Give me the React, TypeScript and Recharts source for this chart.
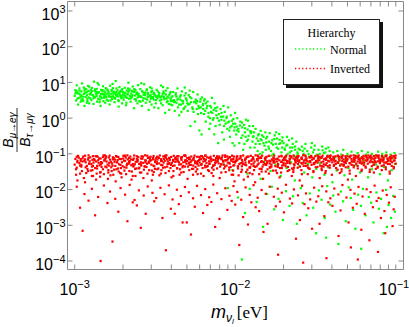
import React from 'react';
import { ScatterChart, Scatter, XAxis, YAxis, Legend, ReferenceArea } from 'recharts';

// ---------- axis settings ----------
const xTicks = [0.001, 0.002, 0.003, 0.004, 0.005, 0.006, 0.007, 0.008, 0.009, 0.01, 0.02, 0.03, 0.04, 0.05, 0.06, 0.07, 0.08, 0.09, 0.1];
const xMajor = [0.001, 0.01, 0.1];
const yTicks = [1e-4, 1e-3, 1e-2, 1e-1, 1, 10, 100, 1000];
const xDomain = [9.02e-4, 0.1117];
const yDomain = [5.78e-5, 1845];
const seriesNames = ['Normal', 'Inverted'];
const legendTitle = 'Hierarchy';

// ---------- data: [m_nu (meV), ratio] ----------
const normalBandLow = [
  [1.0,4.2],[1.01,6.1],[1.02,3.1],[1.03,8.3],[1.04,5.0],[1.05,2.4],[1.06,3.7],[1.07,6.8],[1.08,4.6],[1.09,2.9],[1.1,5.6],[1.11,9.4],[1.12,3.4],[1.13,4.0],[1.14,7.2],[1.15,2.2],[1.16,5.2],[1.17,3.9],[1.18,6.4],[1.19,4.4],[1.2,3.0],[1.21,8.0],[1.22,5.8],[1.23,2.6],[1.24,4.8],[1.25,3.6],[1.02,5.4],[1.06,4.9],[1.1,3.3],[1.15,6.0],[1.19,2.7],[1.23,7.6],
  [1.26,5.1],[1.27,3.2],[1.28,7.0],[1.3,4.3],[1.31,2.5],[1.32,10.5],[1.33,5.9],[1.34,3.8],[1.36,4.7],[1.37,6.6],[1.38,2.9],[1.4,3.5],[1.41,8.6],[1.42,5.3],[1.44,4.1],[1.45,2.2],[1.46,6.2],[1.47,3.6],[1.49,4.9],[1.5,7.8],[1.51,3.0],[1.53,5.6],[1.54,4.4],[1.55,2.7],[1.56,6.9],[1.57,3.9],[1.29,4.5],[1.35,5.5],[1.43,3.3],[1.48,5.9],[1.52,4.0],[1.39,9.6],
  [1.58,4.6],[1.6,6.3],[1.61,3.1],[1.63,5.2],[1.65,2.4],[1.66,8.1],[1.68,4.0],[1.7,5.7],[1.71,3.4],[1.73,6.9],[1.75,4.8],[1.77,2.8],[1.78,3.7],[1.8,10.9],[1.82,5.4],[1.83,4.2],[1.85,6.0],[1.87,3.2],[1.88,2.1],[1.9,7.4],[1.92,4.5],[1.94,5.8],[1.95,3.6],[1.97,2.6],[1.98,6.5],[1.62,4.9],[1.69,3.9],[1.74,5.1],[1.81,4.4],[1.89,5.0],[1.96,4.1],[1.72,9.1],
  [2.0,5.3],[2.02,3.3],[2.05,7.1],[2.07,4.1],[2.09,2.3],[2.11,5.9],[2.13,4.6],[2.16,9.8],[2.18,3.5],[2.2,6.4],[2.23,2.9],[2.25,4.9],[2.27,3.9],[2.3,7.7],[2.32,5.5],[2.34,1.9],[2.37,4.3],[2.39,6.1],[2.41,3.1],[2.44,5.0],[2.46,2.6],[2.48,8.4],[2.04,4.4],[2.12,3.7],[2.21,4.2],[2.28,5.8],[2.36,3.4],[2.43,4.7],[2.15,6.8],[2.47,3.8],
  [2.5,4.8],[2.53,3.0],[2.56,6.5],[2.59,4.0],[2.62,2.2],[2.65,5.4],[2.68,3.6],[2.71,8.9],[2.74,4.4],[2.77,2.7],[2.8,6.0],[2.83,3.3],[2.86,5.1],[2.89,1.7],[2.92,4.2],[2.95,7.3],[2.98,3.5],[3.01,2.4],[3.04,5.7],[3.07,3.9],[3.1,4.8],[3.13,2.0],[2.55,4.1],[2.66,3.1],[2.75,5.2],[2.85,3.9],[2.97,4.5],[3.11,3.3],[2.6,9.5],[3.02,6.8],
  [3.16,4.3],[3.2,2.6],[3.24,6.2],[3.28,3.6],[3.32,1.9],[3.36,5.1],[3.4,3.1],[3.45,8.2],[3.49,4.1],[3.53,2.3],[3.57,5.6],[3.62,3.4],[3.66,1.4],[3.7,4.6],[3.75,2.8],[3.79,6.9],[3.84,3.8],[3.88,1.7],[3.93,4.9],[3.97,3.0],[3.22,3.9],[3.34,4.4],[3.47,3.3],[3.6,4.0],[3.73,3.5],[3.86,2.5],[3.95,5.4],[3.55,7.4],
  [4.0,3.8],[4.05,2.3],[4.1,5.4],[4.15,3.2],[4.2,1.6],[4.26,4.5],[4.31,2.7],[4.37,6.8],[4.42,3.5],[4.48,1.2],[4.53,4.0],[4.59,2.4],[4.65,5.6],[4.71,3.0],[4.77,1.8],[4.83,4.3],[4.89,2.1],[4.95,3.4],[4.08,3.0],[4.22,2.9],[4.4,2.0],[4.56,3.3],[4.74,2.6],[4.92,5.0],[4.3,4.0],[4.62,1.5],[4.85,7.2],
  [5.0,3.1],[5.06,1.6],[5.13,4.4],[5.19,2.5],[5.26,0.6],[5.33,3.6],[5.4,2.0],[5.47,5.4],[5.54,2.8],[5.61,0.8],[5.68,3.3],[5.75,1.8],[5.83,4.6],[5.9,2.2],[5.98,0.45],[6.05,2.9],[6.13,1.4],[6.21,3.8],[6.28,2.3],[5.1,2.4],[5.3,2.8],[5.5,1.5],[5.72,2.6],[5.95,1.9],[6.17,0.35],[5.2,5.9],[5.8,3.0],[6.1,2.0],
  [6.3,2.5],[6.38,1.3],[6.46,3.4],[6.55,0.8],[6.63,1.9],[6.72,2.9],[6.8,1.1],[6.89,0.5],[6.98,2.2],[7.07,1.5],[7.16,3.7],[7.25,0.9],[7.35,1.7],[7.44,2.6],[7.54,0.6],[7.63,1.2],[7.73,2.0],[7.83,0.2],[6.5,1.6],[6.7,2.2],[6.95,1.0],[7.2,1.4],[7.5,1.9],[7.75,1.0],[6.4,3.1],[7.0,0.7],[7.4,0.35],
  [7.9,1.3],[8.0,0.65],[8.1,1.8],[8.2,0.9],[8.3,0.4],[8.4,1.1],[8.5,0.25],[8.6,1.5],[8.71,0.7],[8.82,1.0],[8.93,0.5],[9.04,2.0],[9.15,0.8],[9.27,0.3],[9.38,1.2],[9.5,0.6],[9.62,0.2],[9.74,0.95],[9.86,0.45],[9.98,1.4],[8.15,1.1],[8.55,0.85],[8.95,0.75],[9.3,0.55],[9.7,0.7],[8.45,2.2],[9.9,0.17]
];

const normalBandCore = [
  [1.01,4.9],[1.04,3.5],[1.07,5.9],[1.1,4.3],[1.13,3.0],[1.16,6.6],[1.19,5.3],[1.22,3.8],[1.25,4.6],[1.28,5.7],[1.31,3.6],[1.34,6.4],[1.37,4.2],[1.4,5.0],[1.43,2.8],[1.46,4.7],[1.49,6.1],[1.52,3.7],[1.55,5.2],[1.58,3.3],[1.61,5.8],[1.64,4.3],[1.67,3.1],[1.7,6.2],[1.73,4.1],[1.76,5.5],[1.79,3.5],[1.82,6.8],[1.85,4.6],[1.88,3.0],[1.91,5.3],[1.94,4.0],[1.97,6.0],[2.01,3.8],[2.06,5.1],[2.1,2.7],[2.14,4.8],[2.19,5.9],[2.24,3.6],[2.29,4.4],[2.35,6.5],[2.4,3.4],[2.45,5.2],[2.51,4.0],[2.57,2.9],[2.63,5.7],[2.69,4.5],[2.76,3.5],[2.82,6.4],[2.88,4.1],[2.94,2.9],[3.0,5.4],[3.07,3.7],[3.14,4.6],[3.21,3.2],[3.29,5.6],[3.37,4.0],[3.45,2.6],[3.53,4.8],[3.61,3.6],[3.7,5.9],[3.79,3.0],[3.88,4.5],[3.97,2.4],[4.06,4.1],[4.16,2.8],[4.26,5.0],[4.36,3.3],[4.47,2.4],[4.58,4.4],[4.69,3.0],[4.8,1.9],[4.92,3.6],
  [1.03,5.6],[1.09,3.9],[1.14,4.8],[1.2,3.4],[1.26,6.2],[1.32,4.0],[1.38,5.4],[1.45,3.9],[1.51,4.6],[1.57,6.7],[1.63,4.0],[1.69,4.8],[1.75,3.8],[1.81,5.1],[1.87,4.0],[1.93,5.6],[2.0,4.6],[2.08,3.9],[2.16,5.5],[2.26,4.1],[2.36,5.4],[2.48,4.5],[2.6,3.9],[2.72,5.0],[2.85,4.7],[2.99,3.9],[3.12,5.1],[3.27,4.2],[3.43,3.8],[3.6,5.0],[3.78,4.0],[3.96,3.4],
  [5.03,2.6],[5.23,3.9],[5.43,1.8],[5.64,2.9],[5.86,1.3],[6.08,3.4],[6.32,1.8],[6.56,2.6],[6.81,1.4],[7.07,2.0],[7.34,1.0],[7.62,1.6],[7.91,0.85],[8.21,1.4],[8.52,0.6],[8.85,1.1],[9.19,0.45],[9.54,0.85],[9.9,0.55],[10.3,0.45],[10.7,0.62],[11.1,0.33],[11.5,0.52],[12.0,0.25],[12.4,0.43],[12.9,0.3],[13.4,0.19],[13.9,0.33],[14.4,0.26],[15.0,0.2],[15.6,0.27],[16.2,0.14],[16.8,0.2],[17.5,0.26],[18.1,0.15],[18.8,0.19],[19.6,0.23],[20.3,0.14],[21.1,0.18],[21.9,0.11],[22.7,0.15],[23.6,0.13],[24.5,0.1],[26.3,0.12],[28.6,0.1],[31.0,0.13],[33.6,0.1],[36.4,0.11]
];

const normalBandHigh = [
  [10.0,0.7],[10.15,0.35],[10.3,1.0],[10.45,0.5],[10.6,0.2],[10.75,0.8],[10.9,0.28],[11.05,0.55],[11.2,0.13],[11.35,0.65],[11.5,0.4],[11.65,0.9],[11.8,0.23],[11.95,0.48],[12.1,0.32],[12.25,0.6],[12.4,0.15],[10.5,0.42],[11.0,0.75],[11.6,0.3],[12.0,0.85],[10.2,0.58],[11.4,0.19],[12.5,0.38],
  [12.6,0.42],[12.8,0.22],[13.0,0.31],[13.2,0.15],[13.4,0.5],[13.6,0.27],[13.8,0.12],[14.0,0.36],[14.2,0.19],[14.4,0.44],[14.6,0.24],[14.8,0.11],[15.0,0.3],[15.2,0.17],[15.4,0.4],[15.6,0.21],[13.1,0.4],[13.9,0.23],[14.7,0.33],[15.5,0.13],[12.9,0.6],[14.3,0.1],
  [15.8,0.3],[16.1,0.16],[16.4,0.38],[16.7,0.12],[17.0,0.24],[17.3,0.1],[17.6,0.33],[17.9,0.19],[18.2,0.27],[18.5,0.14],[18.8,0.36],[19.1,0.2],[19.4,0.11],[19.7,0.29],[16.2,0.22],[17.2,0.18],[18.0,0.4],[18.9,0.25],[19.6,0.15],[16.9,0.09],
  [20.0,0.2],[20.4,0.13],[20.8,0.17],[21.2,0.1],[21.6,0.24],[22.0,0.15],[22.4,0.12],[22.8,0.19],[23.2,0.09],[23.6,0.16],[24.0,0.22],[24.4,0.11],[24.8,0.14],[21.0,0.3],[22.6,0.27],[23.8,0.082],[20.6,0.085],
  [25.3,0.13],[26.0,0.16],[26.7,0.1],[27.4,0.19],[28.1,0.12],[28.9,0.085],[29.7,0.15],[30.5,0.11],[31.3,0.17],[32.1,0.095],[33.0,0.13],[33.9,0.075],[34.8,0.16],[35.7,0.105],[36.7,0.14],[37.7,0.09],[38.7,0.12],[39.7,0.07],[27.0,0.14],[30.0,0.2],[35.0,0.125],[38.0,0.15],
  [40.8,0.11],[42.0,0.08],[43.2,0.12],[44.5,0.065],[45.8,0.095],[47.1,0.13],[48.5,0.07],[50.0,0.1],[51.5,0.085],[53.0,0.115],[54.6,0.06],[56.2,0.09],[57.9,0.105],[59.6,0.075],[61.4,0.12],[63.2,0.065],[65.1,0.095],[67.0,0.11],[69.0,0.08],[71.0,0.1],[73.2,0.06],[75.4,0.09],[77.6,0.115],[79.9,0.07],[82.3,0.1],[84.8,0.085],[87.3,0.11],[89.9,0.065],[92.6,0.095],[95.4,0.075],[98.2,0.105]
];

const normalTail = [
  [8.5,0.05],[9.6,0.035],[10.8,0.055],[11.9,0.028],[13.1,0.045],[14.4,0.02],[15.2,0.06],[16.6,0.033],[17.8,0.05],[19.2,0.024],[20.9,0.04],[22.3,0.058],[23.5,0.018],[25.1,0.045],[26.9,0.03],[28.4,0.052],[30.2,0.022],[32.0,0.038],[33.8,0.055],[35.9,0.026],[38.1,0.042],[40.3,0.016],[42.8,0.034],[45.2,0.05],[47.9,0.025],[50.6,0.04],[53.5,0.019],[56.7,0.048],[60.0,0.03],[63.5,0.055],[67.2,0.022],[71.1,0.037],[75.3,0.05],[79.7,0.027],[84.3,0.043],[89.2,0.018],[94.4,0.035],[99.0,0.052],
  [9.0,0.011],[10.4,0.006],[11.5,0.0022],[12.3,0.0105],[13.6,0.0045],[14.9,0.0009],[15.8,0.0075],[16.9,0.012],[17.5,0.0028],[18.6,0.0055],[19.8,0.0014],[20.7,0.009],[21.8,0.0035],[22.9,0.0065],[24.2,0.0011],[25.6,0.011],[26.3,0.0042],[27.8,0.0019],[29.1,0.0078],[30.6,0.0031],[31.9,0.0006],[33.2,0.0095],[34.5,0.0052],[36.1,0.0016],[37.4,0.0125],[39.0,0.0038],[40.8,0.0068],[42.1,0.0024],[43.9,0.0003],[45.5,0.0088],[47.0,0.0047],[48.8,0.0013],[50.9,0.0115],[52.4,0.0058],[54.3,0.0027],[56.0,0.0008],[58.3,0.0072],[60.7,0.0035],[62.5,0.0105],[64.8,0.0019],[67.9,0.0062],[70.2,0.0043],[72.6,0.0012],[75.8,0.0083],[78.4,0.0029],[81.0,0.0055],[84.0,0.0006],[86.9,0.0098],[90.1,0.0037],[93.5,0.0016],[96.3,0.0066],[98.8,0.0024],[11.0,0.00011],[36.8,0.00045],[60.9,0.00022],[88.0,0.0009]
];

const invertedBandLow = [
  [1.01,.072],[1.03,.041],[1.05,.088],[1.02,.026],[1.07,.055],[1.04,.018],
  [1.09,.064],[1.11,.033],[1.13,.084],[1.08,.047],[1.14,.021],[1.12,.075],
  [1.17,.058],[1.2,.038],[1.22,.091],[1.18,.029],[1.21,.069],[1.16,.016],
  [1.25,.08],[1.28,.044],[1.24,.062],[1.3,.024],[1.27,.052],[1.29,.035],
  [1.32,.071],[1.35,.086],[1.34,.04],[1.37,.028],[1.31,.057],[1.36,.019],
  [1.4,.066],[1.43,.048],[1.39,.083],[1.45,.031],[1.42,.074],[1.44,.023],
  [1.48,.056],[1.51,.09],[1.5,.037],[1.53,.065],[1.47,.043],[1.52,.027],
  [1.56,.078],[1.6,.05],[1.58,.061],[1.62,.03],[1.57,.085],[1.61,.02],
  [1.66,.069],[1.69,.042],[1.65,.089],[1.71,.054],[1.7,.033],[1.67,.025],
  [1.75,.076],[1.79,.046],[1.77,.06],[1.81,.087],[1.76,.036],[1.8,.017],
  [1.85,.067],[1.89,.051],[1.87,.082],[1.92,.029],[1.9,.072],[1.86,.039],
  [1.97,.058],[2.01,.088],[1.99,.045],[2.03,.064],[1.96,.022],[2.04,.034],
  [2.08,.079],[2.12,.053],[2.1,.041],[2.14,.07],[2.09,.027],[2.13,.091],
  [2.2,.063],[2.25,.048],[2.22,.084],[2.27,.032],[2.19,.057],[2.26,.019],
  [2.33,.074],[2.38,.038],[2.35,.09],[2.4,.06],[2.32,.044],[2.39,.024],
  [2.47,.068],[2.52,.052],[2.49,.081],[2.55,.03],[2.46,.062],[2.53,.041],
  [2.61,.086],[2.67,.056],[2.64,.073],[2.7,.036],[2.6,.047],[2.68,.021],
  [2.77,.065],[2.83,.089],[2.8,.043],[2.86,.077],[2.76,.058],[2.84,.028],
  [2.94,.071],[3.0,.05],[2.97,.083],[3.03,.034],[2.93,.062],[3.02,.018],
  [3.1,.087],[3.17,.059],[3.13,.045],[3.2,.075],[3.11,.031],[3.18,.066],
  [3.29,.08],[3.36,.054],[3.32,.039],[3.39,.09],[3.28,.069],[3.37,.025],
  [3.49,.063],[3.56,.085],[3.52,.048],[3.59,.072],[3.47,.035],[3.58,.057],
  [3.7,.078],[3.77,.044],[3.73,.091],[3.8,.061],[3.68,.029],[3.79,.052],
  [3.91,.067],[3.99,.082],[3.95,.04],[4.03,.056],[3.9,.074],[4.01,.022],
  [4.14,.088],[4.23,.06],[4.19,.047],[4.27,.07],[4.12,.033],[4.25,.079],
  [4.39,.064],[4.48,.05],[4.43,.086],[4.53,.037],[4.37,.073],[4.5,.026],
  [4.65,.081],[4.74,.058],[4.69,.042],[4.79,.09],[4.63,.068],[4.77,.031],
  [4.92,.066],[5.02,.076],[4.97,.053],[5.08,.044],[4.9,.087],[5.05,.02],
  [5.21,.071],[5.32,.084],[5.27,.059],[5.38,.038],[5.19,.049],[5.35,.065],
  [5.52,.078],[5.63,.055],[5.58,.089],[5.69,.032],[5.5,.069],[5.66,.043],
  [5.85,.063],[5.97,.082],[5.91,.047],[6.03,.074],[5.83,.027],[6.0,.057],
  [6.2,.086],[6.32,.061],[6.26,.04],[6.39,.072],[6.17,.052],[6.35,.024],
  [6.56,.069],[6.69,.08],[6.62,.056],[6.77,.035],[6.54,.09],[6.73,.046],
  [6.95,.075],[7.09,.062],[7.02,.083],[7.17,.041],[6.93,.053],[7.13,.029],
  [7.36,.088],[7.51,.067],[7.44,.049],[7.6,.076],[7.33,.036],[7.55,.058],
  [7.8,.071],[7.95,.084],[7.88,.054],[8.05,.044],[7.77,.063],[8.0,.021],
  [8.26,.079],[8.42,.06],[8.34,.09],[8.52,.039],[8.23,.07],[8.47,.05],
  [8.75,.066],[8.92,.085],[8.84,.047],[9.03,.074],[8.72,.031],[8.98,.057],
  [9.27,.081],[9.45,.064],[9.36,.043],[9.56,.089],[9.24,.053],[9.5,.026],
  [9.72,.072],[9.85,.048],[9.8,.084],[9.92,.06],[9.7,.034],[9.9,.017]
];

const invertedBandHigh = [
  [10.1,.063],[10.3,.086],[10.4,.039],[10.2,.071],[10.5,.025],[10.6,.052],
  [10.8,.078],[11.0,.045],[11.2,.09],[10.9,.031],[11.1,.06],[11.3,.019],
  [11.5,.067],[11.8,.083],[11.7,.048],[11.9,.036],[11.6,.074],[12.0,.023],
  [12.2,.057],[12.5,.088],[12.4,.042],[12.7,.069],[12.3,.029],[12.6,.051],
  [12.9,.08],[13.2,.061],[13.1,.035],[13.4,.091],[13.0,.046],[13.3,.016],
  [13.7,.072],[14.0,.054],[13.9,.085],[14.2,.038],[13.8,.065],[14.1,.027],
  [14.5,.077],[14.8,.044],[14.7,.089],[15.0,.059],[14.6,.032],[14.9,.02],
  [15.4,.068],[15.7,.083],[15.6,.049],[15.9,.037],[15.3,.075],[15.8,.055],
  [16.3,.087],[16.6,.062],[16.5,.041],[16.9,.07],[16.2,.028],[16.8,.05],
  [17.3,.079],[17.6,.058],[17.5,.09],[17.9,.034],[17.2,.066],[17.8,.045],
  [18.3,.073],[18.7,.084],[18.5,.052],[19.0,.04],[18.2,.061],[18.9,.022],
  [19.4,.088],[19.8,.067],[19.6,.047],[20.1,.076],[19.3,.03],[20.0,.056],
  [20.6,.081],[21.0,.063],[20.8,.09],[21.3,.043],[20.5,.07],[21.2,.033],
  [21.8,.074],[22.3,.085],[22.0,.054],[22.6,.039],[21.7,.062],[22.5,.024],
  [23.1,.089],[23.6,.068],[23.4,.048],[23.9,.078],[23.0,.036],[23.8,.057],
  [24.5,.082],[25.0,.06],[24.8,.087],[25.3,.044],[24.4,.071],[25.2,.018],
  [25.9,.076],[26.5,.091],[26.2,.053],[26.8,.065],[25.8,.035],[26.7,.046],
  [27.5,.084],[28.1,.062],[27.8,.074],[28.4,.041],[27.4,.055],[28.3,.027],
  [29.1,.079],[29.7,.088],[29.4,.058],[30.1,.069],[29.0,.038],[29.9,.049],
  [30.8,.073],[31.5,.086],[31.1,.052],[31.9,.063],[30.7,.031],[31.7,.042],
  [32.7,.09],[33.4,.066],[33.0,.077],[33.8,.047],[32.6,.057],[33.6,.021],
  [34.6,.081],[35.4,.061],[35.0,.089],[35.8,.071],[34.5,.039],[35.6,.051],
  [36.7,.075],[37.5,.087],[37.1,.055],[37.9,.064],[36.6,.033],[37.7,.045],
  [38.9,.083],[39.7,.068],[39.3,.09],[40.2,.058],[38.8,.048],[40.0,.026],
  [41.2,.072],[42.1,.085],[41.6,.061],[42.5,.04],[41.0,.079],[42.3,.052],
  [43.6,.088],[44.6,.066],[44.1,.075],[45.0,.047],[43.5,.057],[44.8,.029],
  [46.2,.081],[47.2,.07],[46.7,.09],[47.7,.059],[46.0,.037],[47.5,.05],
  [48.9,.077],[50.0,.086],[49.5,.064],[50.6,.044],[48.8,.055],[50.3,.019],
  [51.8,.083],[53.0,.072],[52.4,.089],[53.5,.061],[51.6,.034],[53.2,.049],
  [54.9,.078],[56.1,.087],[55.5,.067],[56.7,.053],[54.7,.042],[56.4,.024],
  [58.1,.085],[59.4,.074],[58.8,.09],[60.1,.062],[57.9,.046],[59.7,.056],
  [61.6,.08],[62.9,.088],[62.2,.069],[63.6,.057],[61.4,.036],[63.2,.048],
  [65.2,.086],[66.6,.076],[65.9,.064],[67.4,.09],[65.0,.041],[66.9,.053],
  [69.0,.082],[70.5,.07],[69.8,.089],[71.3,.059],[68.8,.031],[70.9,.045],
  [73.1,.087],[74.7,.077],[73.9,.065],[75.5,.091],[72.9,.05],[75.1,.038],
  [77.4,.083],[79.1,.072],[78.3,.09],[80.0,.061],[77.2,.044],[79.6,.055],
  [82.0,.088],[83.8,.068],[82.9,.079],[84.7,.057],[81.8,.035],[84.2,.048],
  [86.8,.085],[88.7,.074],[87.7,.09],[89.7,.063],[86.6,.042],[89.2,.052],
  [91.9,.081],[93.9,.089],[92.9,.07],[95.0,.058],[91.7,.028],[94.4,.046],
  [97.3,.086],[99.4,.076],[98.3,.065],[99.8,.09],[97.1,.039],[99.9,.053]
];

const invertedBandFill = [
  [1.0,.05],[1.06,.078],[1.12,.061],[1.19,.046],[1.26,.034],[1.33,.067],[1.41,.056],[1.5,.081],[1.58,.042],[1.68,.06],[1.78,.069],[1.88,.032],[2.0,.074],[2.11,.048],[2.24,.07],[2.37,.051],[2.51,.039],[2.66,.083],[2.82,.053],[2.99,.066],[3.16,.038],[3.35,.077],[3.55,.041],[3.76,.07],[3.98,.049],[4.22,.074],[4.47,.058],[4.73,.046],[5.01,.063],[5.31,.049],[5.62,.062],[5.96,.067],[6.31,.079],[6.68,.044],[7.08,.071],[7.5,.056],[7.94,.076],[8.41,.064],[8.91,.068],[9.44,.07],
  [1.04,.064],[1.1,.044],[1.16,.07],[1.23,.053],[1.3,.086],[1.38,.046],[1.46,.059],[1.55,.071],[1.64,.047],[1.73,.08],[1.83,.058],[1.94,.04],[2.06,.087],[2.18,.06],[2.3,.052],[2.44,.073],[2.58,.058],[2.73,.045],[2.9,.06],[3.07,.076],[3.25,.052],[3.45,.063],[3.66,.083],[3.88,.055],[4.11,.063],[4.35,.04],[4.6,.079],[4.87,.06],[5.16,.071],[5.47,.038],[5.8,.052],[6.14,.087],[6.5,.047],[6.88,.062],[7.29,.047],[7.72,.08],[8.18,.051],[8.66,.082],[9.17,.041],[9.72,.059],
  [10.0,.057],[10.6,.073],[11.2,.052],[11.9,.081],[12.6,.064],[13.3,.043],[14.1,.076],[15.0,.05],[15.8,.062],[16.8,.044],[17.8,.07],[18.8,.066],[20.0,.049],[21.1,.056],[22.4,.079],[23.7,.062],[25.1,.066],[26.6,.057],[28.2,.047],[29.9,.082],[31.6,.058],[33.5,.083],[35.5,.044],[37.6,.081],[39.8,.071],[42.2,.064],[44.7,.083],[47.3,.046],[50.1,.07],[53.1,.062],[56.2,.077],[59.6,.068],[63.1,.075],[66.8,.069],[70.8,.079],[75.0,.058],[79.4,.066],[84.1,.075],[89.1,.07],[94.4,.077],
  [10.4,.045],[11.0,.068],[11.6,.057],[12.3,.042],[13.0,.071],[13.8,.05],[14.6,.063],[15.5,.08],[16.4,.054],[17.4,.063],[18.4,.043],[19.5,.059],[20.6,.053],[21.9,.07],[23.2,.041],[24.6,.052],[26.0,.072],[27.6,.066],[29.2,.063],[30.9,.055],[32.8,.074],[34.7,.045],[36.8,.068],[39.0,.076],[41.3,.049],[43.8,.056],[46.4,.063],[49.2,.073],[52.1,.054],[55.2,.06],[58.5,.072],[62.0,.058],[65.7,.08],[69.6,.064],[73.7,.058],[78.1,.078],[82.7,.062],[87.6,.058],[92.8,.062],[98.3,.08]
];

const invertedBandFill2 = [
  [1.03,.083],[1.04,.058],[1.02,.037],[1.09,.071],[1.1,.049],[1.08,.028],[1.16,.089],[1.15,.064],[1.17,.042],[1.22,.077],[1.23,.053],[1.21,.033],
  [1.29,.068],[1.3,.046],[1.28,.024],[1.37,.086],[1.36,.061],[1.38,.039],[1.45,.074],[1.46,.051],[1.44,.03],[1.54,.091],[1.53,.066],[1.55,.044],
  [1.63,.079],[1.64,.056],[1.62,.035],[1.73,.07],[1.72,.047],[1.74,.026],[1.83,.083],[1.84,.058],[1.82,.037],[1.94,.071],[1.93,.049],[1.95,.028],
  [2.05,.089],[2.06,.064],[2.04,.042],[2.18,.077],[2.17,.053],[2.19,.033],[2.31,.068],[2.32,.046],[2.3,.024],[2.44,.086],[2.45,.061],[2.43,.039],
  [2.59,.074],[2.58,.051],[2.6,.03],[2.74,.091],[2.75,.066],[2.73,.044],[2.9,.079],[2.89,.056],[2.91,.035],[3.08,.07],[3.09,.047],[3.07,.026],
  [3.26,.083],[3.25,.058],[3.27,.037],[3.45,.071],[3.46,.049],[3.44,.028],[3.65,.089],[3.64,.064],[3.66,.042],[3.87,.077],[3.88,.053],[3.86,.033],
  [4.1,.068],[4.09,.046],[4.11,.024],[4.35,.086],[4.36,.061],[4.34,.039],[4.6,.074],[4.59,.051],[4.61,.03],[4.87,.091],[4.88,.066],[4.86,.044],
  [5.16,.079],[5.15,.056],[5.17,.035],[5.47,.07],[5.48,.047],[5.46,.026],[5.79,.083],[5.78,.058],[5.8,.037],[6.13,.071],[6.14,.049],[6.12,.028],
  [6.49,.089],[6.48,.064],[6.5,.042],[6.88,.077],[6.89,.053],[6.87,.033],[7.29,.068],[7.28,.046],[7.3,.024],[7.72,.086],[7.73,.061],[7.71,.039],
  [8.18,.074],[8.17,.051],[8.19,.03],[8.66,.091],[8.67,.066],[8.65,.044],[9.17,.079],[9.16,.056],[9.18,.035],[9.71,.07],[9.72,.047],[9.7,.026],
  [10.3,.066],[10.4,.044],[10.2,.081],[10.9,.055],[11.0,.036],[10.8,.087],[11.6,.073],[11.5,.05],[11.7,.031],[12.2,.062],[12.3,.041],[12.1,.084],
  [12.9,.078],[13.0,.054],[12.8,.027],[13.7,.069],[13.6,.045],[13.8,.09],[14.5,.059],[14.6,.038],[14.4,.08],[15.4,.075],[15.3,.052],[15.5,.032],
  [16.3,.064],[16.4,.043],[16.2,.088],[17.3,.057],[17.2,.034],[17.4,.076],[18.3,.072],[18.4,.048],[18.2,.029],[19.4,.085],[19.3,.06],[19.5,.04],
  [20.5,.067],[20.6,.045],[20.4,.082],[21.8,.056],[21.7,.035],[21.9,.088],[23.1,.074],[23.2,.051],[23.0,.031],[24.4,.063],[24.5,.041],[24.3,.085],
  [25.9,.079],[25.8,.055],[26.0,.027],[27.4,.07],[27.5,.046],[27.3,.09],[29.0,.06],[28.9,.039],[29.1,.081],[30.8,.076],[30.9,.052],[30.7,.033],
  [32.6,.065],[32.5,.043],[32.7,.087],[34.5,.058],[34.6,.035],[34.4,.077],[36.5,.073],[36.6,.049],[36.4,.029],[38.7,.086],[38.6,.061],[38.8,.041],
  [41.0,.068],[41.1,.046],[40.9,.083],[43.5,.057],[43.4,.036],[43.6,.089],[46.0,.075],[46.1,.051],[45.9,.032],[48.7,.064],[48.8,.042],[48.6,.086],
  [51.6,.08],[51.5,.055],[51.7,.028],[54.7,.069],[54.8,.047],[54.6,.091],[57.9,.061],[58.0,.039],[57.8,.082],[61.3,.077],[61.4,.053],[61.2,.033],
  [64.9,.066],[64.8,.044],[65.0,.088],[68.8,.058],[68.9,.036],[68.7,.078],[72.9,.073],[72.8,.05],[73.0,.03],[77.2,.087],[77.3,.062],[77.1,.041],
  [81.8,.069],[81.7,.046],[81.9,.084],[86.6,.057],[86.7,.037],[86.5,.09],[91.7,.076],[91.8,.052],[91.6,.032],[97.1,.065],[97.2,.043],[97.0,.086]
];

const invertedTail = [
  [1.03,0.012],[1.15,0.0075],[1.28,0.0105],[1.4,0.0062],[1.52,0.013],[1.66,0.0088],[1.79,0.0055],[1.93,0.011],[2.06,0.0072],[2.2,0.0135],[2.36,0.0051],[2.51,0.0095],[2.69,0.0068],[2.85,0.0122],[3.05,0.0081],[3.22,0.0058],[3.42,0.0112],[3.63,0.0074],[3.86,0.0131],[4.07,0.0053],[4.33,0.0099],[4.58,0.0066],[4.86,0.0118],[5.14,0.0084],[5.46,0.0057],[5.78,0.0127],[6.12,0.007],[6.5,0.0103],[6.88,0.0061],[7.3,0.0138],[7.72,0.0079],[8.2,0.0054],[8.68,0.0109],[9.2,0.0067],[9.75,0.0125],[10.3,0.0086],[10.9,0.0052],[11.6,0.0115],[12.3,0.0071],[13.0,0.0133],[13.8,0.0059],[14.6,0.0097],[15.5,0.0076],[16.4,0.012],[17.4,0.0063],[18.4,0.0106],[19.5,0.0082],[20.7,0.0136],[21.9,0.0056],[23.2,0.0101],[24.6,0.0069],[26.1,0.0128],[27.6,0.0078],[29.3,0.0053],[31.0,0.0113],[32.9,0.0065],[34.8,0.0124],[36.9,0.0089],[39.1,0.0057],[41.4,0.0107],[43.9,0.0073],[46.5,0.0134],[49.3,0.006],[52.2,0.0098],[55.3,0.0077],[58.6,0.0119],[62.1,0.0064],[65.8,0.0102],[69.7,0.0085],[73.8,0.0129],[78.2,0.0058],[82.9,0.0094],[87.8,0.0071],[93.0,0.0116],[98.5,0.0063],
  [1.08,0.0031],[1.34,0.0019],[1.6,0.0042],[1.87,0.0024],[2.13,0.0013],[2.44,0.0036],[2.77,0.0021],[3.13,0.0047],[3.52,0.0016],[3.97,0.0029],[4.45,0.0039],[4.99,0.0012],[5.6,0.0033],[6.3,0.0022],[7.1,0.0045],[7.98,0.0015],[8.93,0.0027],[10.0,0.0038],[11.2,0.0017],[12.6,0.0044],[14.1,0.0025],[15.9,0.0011],[17.9,0.0034],[20.1,0.0023],[22.6,0.0041],[25.3,0.0014],[28.5,0.003],[32.0,0.0046],[35.9,0.0018],[40.3,0.0035],[45.3,0.0026],[50.8,0.0012],[57.1,0.004],[64.1,0.0021],[72.0,0.0032],[80.8,0.0016],[90.7,0.0043],[97.0,0.0028],[1.22,0.0049],[2.3,0.0044],[4.2,0.0021],[6.7,0.0037],[9.5,0.0048],[13.4,0.0032],[19.0,0.0046],[27.0,0.0039],[38.0,0.0044],[54.0,0.0031],[76.0,0.0048],[85.0,0.0025],
  [1.12,0.0007],[1.72,0.00035],[2.58,0.00085],[3.7,0.0002],[5.3,0.00055],[7.5,0.0009],[10.6,0.00028],[15.0,0.00065],[18.5,0.00015],[23.9,0.00042],[30.1,0.0008],[37.0,0.00012],[44.0,0.0005],[52.5,0.00024],[61.0,0.00075],[68.5,0.00038],[77.5,0.00018],[86.0,0.0006],[95.5,0.00095],[4.7,0.0012],[12.0,0.00105],[33.5,0.0011],[1.45,0.0001],[26.5,0.00009],[58.0,0.00011]
];

// ---------- build tables (meV -> eV) ----------
const toPoints = (arr: number[][]) => arr.map(([m, r]) => ({ x: m / 1000, y: r }));
const normalData = toPoints([...normalBandLow, ...normalBandCore, ...normalBandHigh, ...normalTail]);
const invertedData = toPoints([...invertedBandLow, ...invertedBandHigh, ...invertedBandFill, ...invertedBandFill2, ...invertedTail]);

// ---------- styling ----------
const GREEN = '#00ff00';
const RED = '#ff0000';
const AX = '#8a8a8a';
const PL = 67.5, PR = 403.5, PT = 1.5, PB = 269.5;
const SANS = 'Liberation Sans, Arial, sans-serif';
const SERIF = 'Liberation Serif, Times New Roman, serif';
const DOT = 2.2;

const expText = (v: number) => {
  const e = Math.round(Math.log10(v));
  return e < 0 ? '\u2212' + Math.abs(e) : String(e);
};

const makeSquare = (color: string) => (p: any) => {
  if (p == null || p.cx == null || p.cy == null) return <g />;
  return <rect x={p.cx - DOT / 2} y={p.cy - DOT / 2} width={DOT} height={DOT} fill={color} />;
};

const XTick = (props: any) => {
  const { x, payload } = props;
  const v = payload.value;
  const major = xMajor.some((m) => Math.abs(m - v) / m < 1e-6);
  const lx = Math.min(x, 394);
  return (
    <g>
      <line x1={x} x2={x} y1={PB} y2={PB - 5} stroke={AX} strokeWidth={1} />
      <line x1={x} x2={x} y1={PT} y2={PT + 5} stroke={AX} strokeWidth={1} />
      {major && (
        <text x={lx} y={295} textAnchor="middle" fontFamily={SANS} fontSize={16} fill="#000">
          10<tspan dy={-7} fontSize={11}>{expText(v)}</tspan>
        </text>
      )}
    </g>
  );
};

const YTick = (props: any) => {
  const { y, payload } = props;
  return (
    <g>
      <line x1={PL} x2={PL + 5} y1={y} y2={y} stroke={AX} strokeWidth={1} />
      <line x1={PR} x2={PR - 5} y1={y} y2={y} stroke={AX} strokeWidth={1} />
      <text x={65.5} y={y + 8.7} textAnchor="end" fontFamily={SANS} fontSize={16} fill="#000">
        10<tspan dy={-7} fontSize={11}>{expText(payload.value)}</tspan>
      </text>
    </g>
  );
};

const XTitle = () => (
  <text x={211} y={318} fontFamily={SANS} fontStyle="italic" fontSize={18} fill="#000">
    m<tspan fontSize={12} dy={4}>ν</tspan><tspan fontSize={8} dy={2}>l</tspan>
    <tspan dy={-6} dx={3} fontFamily={SERIF} fontStyle="normal" fontSize={17}>[eV]</tspan>
  </text>
);

const YTitle = () => {
  const cx = 17, cy = 130;
  return (
    <g transform={`rotate(-90 ${cx} ${cy})`}>
      <text x={cx} y={cy - 4} textAnchor="middle" fontFamily={SANS} fontStyle="italic" fontSize={14} fill="#000">
        B<tspan fontSize={10} dy={3}>μ→eγ</tspan>
      </text>
      <line x1={cx - 22} x2={cx + 22} y1={cy} y2={cy} stroke="#000" strokeWidth={0.8} />
      <text x={cx} y={cy + 13} textAnchor="middle" fontFamily={SANS} fontStyle="italic" fontSize={14} fill="#000">
        B<tspan fontSize={10} dy={3}>τ→μγ</tspan>
      </text>
    </g>
  );
};

const LegendBox = (props: any) => {
  const items = [...(props.payload || [])].sort(
    (a: any, b: any) => seriesNames.indexOf(a.value) - seriesNames.indexOf(b.value)
  );
  return (
    <div
      style={{
        width: 97,
        height: 66,
        boxSizing: 'border-box',
        border: '1px solid #222',
        background: '#fff',
        boxShadow: '3px 3px 0 #111',
      }}
    >
      <svg width={95} height={64} style={{ display: 'block' }}>
        <text x={47.5} y={17} textAnchor="middle" fontFamily={SERIF} fontSize={12} fill="#000">
          {legendTitle}
        </text>
        {items.map((it: any, i: number) => (
          <g key={i}>
            <line
              x1={11}
              x2={43}
              y1={29 + i * 19.5}
              y2={29 + i * 19.5}
              stroke={it.color}
              strokeWidth={1.4}
              strokeDasharray="1.3 2.3"
            />
            <text x={46} y={33.5 + i * 19.5} fontFamily={SERIF} fontSize={12} fill="#000">
              {it.value}
            </text>
          </g>
        ))}
      </svg>
    </div>
  );
};

export default function App() {
  return (
    <div style={{ position: 'absolute', left: 0, top: 0, width: 409, height: 327, background: '#fff' }}>
      <ScatterChart width={409} height={327} margin={{ top: PT, right: 409 - PR, bottom: 0, left: 0 }}>
        <XAxis
          dataKey="x"
          type="number"
          scale="log"
          domain={xDomain}
          allowDataOverflow
          ticks={xTicks}
          interval={0}
          height={327 - PB}
          axisLine={false}
          tickLine={false}
          tick={XTick}
          label={<XTitle />}
        />
        <YAxis
          dataKey="y"
          type="number"
          scale="log"
          domain={yDomain}
          allowDataOverflow
          ticks={yTicks}
          interval={0}
          width={PL}
          axisLine={false}
          tickLine={false}
          tick={YTick}
          label={<YTitle />}
        />
        <ReferenceArea
          x1={xDomain[0]}
          x2={xDomain[1]}
          y1={yDomain[0]}
          y2={yDomain[1]}
          fill="none"
          fillOpacity={0}
          stroke={AX}
          strokeWidth={1}
          ifOverflow="visible"
        />
        <Scatter
          name={seriesNames[0]}
          data={normalData}
          fill={GREEN}
          shape={makeSquare(GREEN)}
          isAnimationActive={false}
        />
        <Scatter
          name={seriesNames[1]}
          data={invertedData}
          fill={RED}
          shape={makeSquare(RED)}
          isAnimationActive={false}
        />
        <Legend
          layout="vertical"
          align="center"
          verticalAlign="middle"
          content={LegendBox}
          wrapperStyle={{ position: 'absolute', left: 283, top: 19, width: 97, height: 66 }}
        />
      </ScatterChart>
    </div>
  );
}
